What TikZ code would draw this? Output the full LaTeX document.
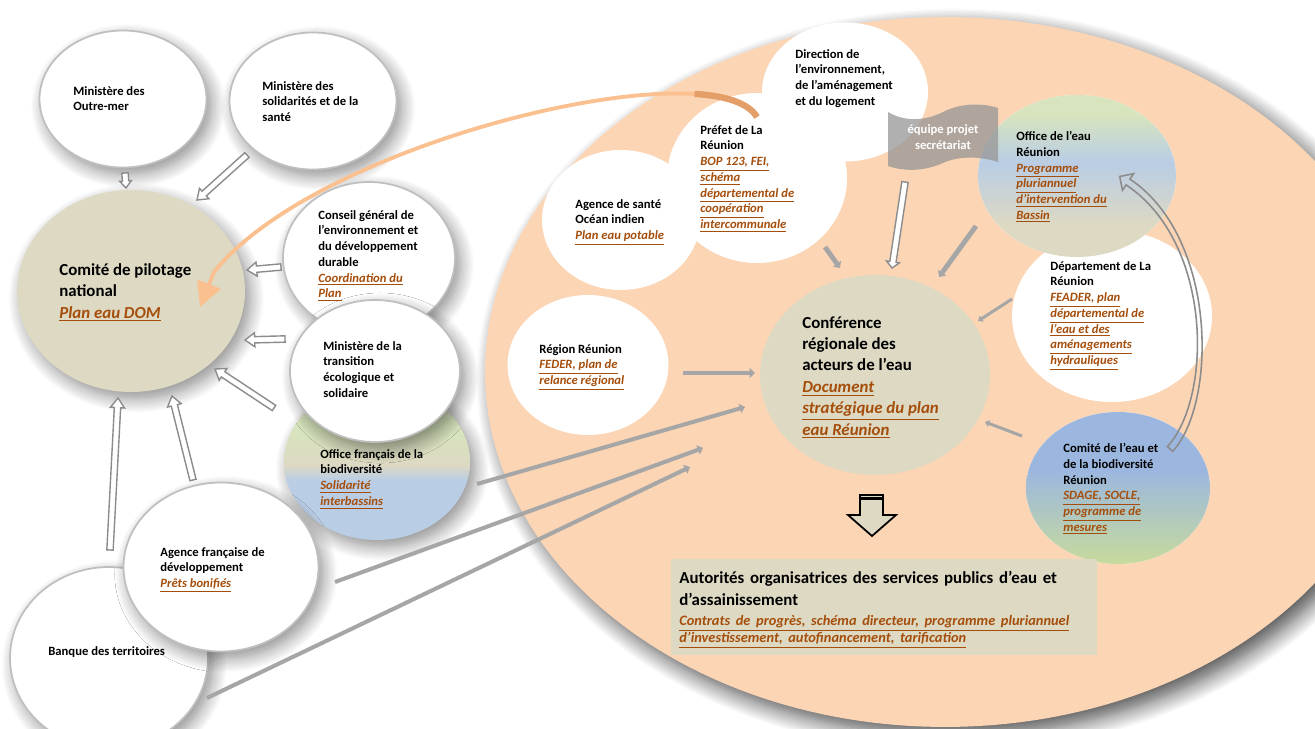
\documentclass[tikz,border=0pt]{standalone}
\usepackage{fontspec}
\setmainfont{Carlito}[BoldItalicFont={Carlito Bold Italic}]
\usepackage{tikz}
\usetikzlibrary{shapes.geometric,arrows.meta,calc,shadows.blur}

\definecolor{peche}{RGB}{252,213,181}
\definecolor{sable}{RGB}{221,217,195}
\definecolor{vertclair}{RGB}{215,228,189}
\definecolor{bleuclair}{RGB}{185,205,229}
\definecolor{bleucomite}{RGB}{155,183,224}
\definecolor{vertcomite}{RGB}{198,217,158}
\definecolor{contour}{RGB}{191,191,191}
\definecolor{grisfleche}{RGB}{166,166,166}
\definecolor{grisbord}{RGB}{140,140,140}
\definecolor{grisbandeau}{RGB}{150,150,150}
\definecolor{orangefl}{RGB}{250,192,144}
\definecolor{orangefonce}{RGB}{228,158,104}
\definecolor{lien}{RGB}{165,78,12}

\pgfdeclareverticalshading{ofbgrad}{100bp}{color(0bp)=(bleuclair); color(44bp)=(bleuclair); color(49bp)=(sable); color(60bp)=(vertclair); color(100bp)=(vertclair)}
\pgfdeclareverticalshading{oergrad}{100bp}{color(0bp)=(sable); color(35bp)=(sable); color(54bp)=(bleuclair); color(69bp)=(vertclair); color(100bp)=(vertclair)}
\pgfdeclareverticalshading{cebgrad}{100bp}{color(0bp)=(vertcomite); color(26bp)=(vertcomite); color(56bp)=(bleucomite); color(100bp)=(bleucomite)}

\setlength{\parindent}{0pt}
\newcommand{\fontpetit}{\fontsize{7.2}{8.96}\selectfont\bfseries}
\newcommand{\fontgrand}{\fontsize{9.6}{12.2}\selectfont\bfseries}
\newcommand{\lien}[1]{\textcolor{lien}{\underline{\bfseries\itshape #1}}}

% hollow block arrow: from, to, shaft half width, head half width, head length
\newcommand{\flechecreuse}[5]{%
  \coordinate (cr-a) at #1;
  \coordinate (cr-b) at #2;
  \coordinate (cr-h) at ($(cr-b)!#5!(cr-a)$);
  \filldraw[creux] ($(cr-a)!#3!90:(cr-b)$) -- ($(cr-h)!#3!90:(cr-b)$) -- ($(cr-h)!#4!90:(cr-b)$)
    -- (cr-b) -- ($(cr-h)!#4!-90:(cr-b)$) -- ($(cr-h)!#3!-90:(cr-b)$) -- ($(cr-a)!#3!-90:(cr-b)$) -- cycle;
}

\tikzset{
  ombre/.style={ellipse, inner sep=0pt, blur shadow={shadow xshift=3pt, shadow yshift=-4pt, shadow blur radius=8pt, shadow blur steps=12, shadow opacity=45}},
  acteur/.style={ombre, fill=white, draw=contour, line width=1pt},
  pilote/.style={ombre, fill=sable},
  interne/.style={ellipse, inner sep=0pt, fill=white},
  zone/.style={ellipse, inner sep=0pt, fill=peche, blur shadow={shadow xshift=5pt, shadow yshift=-5pt, shadow blur radius=10pt, shadow blur steps=14, shadow opacity=70}},
  taille/.style 2 args={minimum width=#1cm, minimum height=#2cm},
  texte/.style={anchor=north west, align=left, inner sep=0pt, font=\fontpetit},
  titre/.style={texte, font=\fontgrand},
  trait/.style={draw=grisfleche, line width=2.8pt, -{Triangle[length=3pt,width=5.5pt]}},
  filet/.style={draw=grisfleche, line width=1.7pt, -{Triangle[length=2.5pt,width=4pt]}},
  creux/.style={draw=grisbord, fill=white, line width=0.8pt},
  bandeau/.style={fill=grisbandeau, fill opacity=0.75},
}

\begin{document}
\begin{tikzpicture}[x=0.02cm,y=-0.02cm]
        \useasboundingbox (0,0) rectangle (1315,729);
        \clip (0,0) rectangle (1315,729);

        % regional zone
        \node[zone, minimum width=18.4cm, minimum height=14.2cm] (reunion) at (945,372) {};

        % national actors
        \node[acteur, taille={3.34}{2.74}] (outremer) at (123,99) {};
        \node[acteur, taille={3.34}{2.74}] (solidarites) at (313,101) {};
        \node[pilote, taille={4.56}{4.04}] (copil) at (131,291) {};
        \node[acteur, taille={3.44}{3.04}] (cgedd) at (369,258) {};
        \node[ombre, shading=ofbgrad, taille={3.72}{3.12}] (ofb) at (377,462) {};
        \node[acteur, taille={3.40}{2.84}] (transition) at (375,371) {};
        \node[acteur, taille={3.96}{3.64}] (banque) at (109,658) {};
        \node[acteur, taille={3.90}{3.38}] (afd) at (221,567) {};

        % regional actors
        \node[interne, taille={3.16}{2.80}] (sante) at (621,220) {};
        \node[interne, taille={3.60}{3.40}] (prefet) at (757,178) {};
        \node[interne, taille={3.32}{2.78}] (direction) at (845,92) {};
        \node[interne, taille={3.22}{2.80}] (region) at (588,365) {};
        \node[interne, fill=sable, taille={4.60}{4.00}] (conference) at (875,375) {};
        \node[interne, taille={4.00}{3.44}] (departement) at (1112,316) {};
        \node[interne, shading=oergrad, taille={3.96}{3.24}] (officeeau) at (1077,176) {};
        \node[interne, shading=cebgrad, taille={3.68}{3.04}] (comiteeau) at (1118,488) {};

        % project team banner
        \fill[bandeau] (888,112) .. controls (905,122) and (925,121) .. (943,112)
            .. controls (958,104) and (980,102) .. (998,108) -- (998,162)
            .. controls (980,156) and (958,156) .. (943,163)
            .. controls (925,171) and (905,172) .. (888,166) -- cycle;
        \node[font=\fontpetit, text=white, align=center, inner sep=0pt] (equipe) at (943,137) {équipe projet\\secrétariat};

        % organising authorities
        \node[fill=sable, minimum width=8.52cm, minimum height=1.94cm, inner sep=0pt] (autorites) at (884,607) {};
        \filldraw[fill=sable, draw=black, line width=1pt] (860,495) -- (883,495) -- (883,515) -- (896,515)
            -- (872,536) -- (848,515) -- (860,515) -- cycle;
        \draw[line width=1.2pt] (860,498.5) -- (883,498.5);

        % hollow arrows to the steering committee
        \flechecreuse{($(outremer)+(2,74)$)}{($(copil)+(-5,-103)$)}{1.8pt}{3.3pt}{4pt}
        \flechecreuse{($(solidarites)+(-66,54)$)}{($(copil)+(66,-91)$)}{1.8pt}{4pt}{5.5pt}
        \flechecreuse{($(cgedd)+(-88,9)$)}{($(copil)+(116,-21)$)}{1.8pt}{4pt}{5.5pt}
        \flechecreuse{($(transition)+(-90,-32)$)}{($(copil)+(114,49)$)}{1.8pt}{4pt}{5.5pt}
        \flechecreuse{($(ofb)+(-103,-54)$)}{($(copil)+(84,78)$)}{1.8pt}{4pt}{5.5pt}
        \flechecreuse{($(afd)+(-28,-87)$)}{($(copil)+(41,105)$)}{1.8pt}{4pt}{5.5pt}
        \flechecreuse{($(banque)+(1,-108)$)}{($(copil)+(-13,107)$)}{1.8pt}{4pt}{5.5pt}
        \flechecreuse{($(equipe)+(-38,45)$)}{($(conference)+(17,-107)$)}{1.8pt}{3.7pt}{3.5pt}

        % grey arrows to the regional conference
        \draw[trait] ($(region)+(95,8)$) -- ($(conference)+(-120,-2)$);
        \draw[trait] ($(prefet)+(68,69)$) -- ($(conference)+(-35,-107)$);
        \draw[trait] ($(officeeau)+(-101,50)$) -- ($(conference)+(64,-98)$);
        \draw[filet] ($(departement)+(-100,-17)$) -- ($(conference)+(103,-54)$);
        \draw[filet] ($(comiteeau)+(-96,-52)$) -- ($(conference)+(110,47)$);
        \draw[trait, line width=2.3pt] ($(ofb)+(100,22)$) -- ($(conference)+(-130,32)$);
        \draw[trait, line width=2.3pt] ($(afd)+(114,15)$) -- ($(conference)+(-172,73)$);
        \draw[trait, line width=2.3pt] ($(banque)+(98,40)$) -- ($(conference)+(-185,92)$);

        % curved hollow arrow comite -> office
        \draw[grisbord, line width=0.9pt] (1167.4,446.6) .. controls (1212.4,397.6) and (1213.1,242.9) .. (1126.1,184.9)
            -- (1122.5,190.3) -- (1119.7,176.5) -- (1133.6,173.7) -- (1129.9,179.1)
            .. controls (1216.9,237.1) and (1217.6,402.4) .. (1172.6,451.4) -- cycle;

        % texts
        \node[texte] (outremer-t) at (73,86) {Ministère des\\Outre-mer};
        \node[texte] (solidarites-t) at (262,81) {Ministère des\\solidarités et de la\\santé};
        \node[titre] (copil-t) at (59,263) {Comité de pilotage\\national\\\lien{Plan eau DOM}};
        \node[texte] (cgedd-t) at (318,210) {Conseil général de\\l'environnement et\\du développement\\durable\\\lien{Coordination du}\\\lien{Plan}};
        \node[texte] (transition-t) at (323,341) {Ministère de la\\transition\\écologique et\\solidaire};
        \node[texte] (ofb-t) at (320,449) {Office français de la\\biodiversité\\\lien{Solidarité}\\\lien{interbassins}};
        \node[texte] (afd-t) at (160,547) {Agence française de\\développement\\\lien{Prêts bonifiés}};
        \node[texte] (banque-t) at (48,646) {Banque des territoires};
        \node[texte] (direction-t) at (795,49) {Direction de\\l'environnement,\\de l'aménagement\\et du logement};
        \node[texte] (prefet-t) at (700,125) {Préfet de La\\Réunion\\\lien{BOP 123, FEI,}\\\lien{schéma}\\\lien{départemental de}\\\lien{coopération}\\\lien{intercommunale}};
        \node[texte] (sante-t) at (575,199) {Agence de santé\\Océan indien\\\lien{Plan eau potable}};
        \node[texte] (officeeau-t) at (1016,131) {Office de l'eau\\Réunion\\\lien{Programme}\\\lien{pluriannuel}\\\lien{d'intervention du}\\\lien{Bassin}};
        \node[texte] (departement-t) at (1050,261) {Département de La\\Réunion\\\lien{FEADER, plan}\\\lien{départemental de}\\\lien{l'eau et des}\\\lien{aménagements}\\\lien{hydrauliques}};
        \node[texte] (region-t) at (539,344) {Région Réunion\\\lien{FEDER, plan de}\\\lien{relance régional}};
        \node[titre] (conference-t) at (802,316) {Conférence\\régionale des\\acteurs de l'eau\\\lien{Document}\\\lien{stratégique du plan}\\\lien{eau Réunion}};
        \node[texte] (comiteeau-t) at (1063,443) {Comité de l'eau et\\de la biodiversité\\Réunion\\\lien{SDAGE, SOCLE,}\\\lien{programme de}\\\lien{mesures}};
        \node[titre, text width=9cm] (autorites-t) at (679,571) {Autorités organisatrices des services publics d'eau et\\d'assainissement\par\vspace{2.1pt}{\fontsize{8.2}{9.6}\selectfont\lien{Contrats de progrès, schéma directeur, programme pluriannuel}\\\lien{d'investissement, autofinancement, tarification}\par}};

        % orange arrow prefet -> comite de pilotage
        \coordinate (o-dep) at ($(prefet)+(0,-61)$);
        \coordinate (o-arr) at ($(copil)+(69,16)$);
        \draw[orangefl, line width=2.2pt, -{Triangle[length=14pt,width=14pt]}] (o-dep) .. controls (715,48) and (320,140) .. (214,272) -- (o-arr);
        \draw[orangefonce, line width=3.6pt] (o-dep) .. controls (748.6,103.2) and (726.1,95.8) .. (694.6,93.9);
    \end{tikzpicture}
\end{document}
